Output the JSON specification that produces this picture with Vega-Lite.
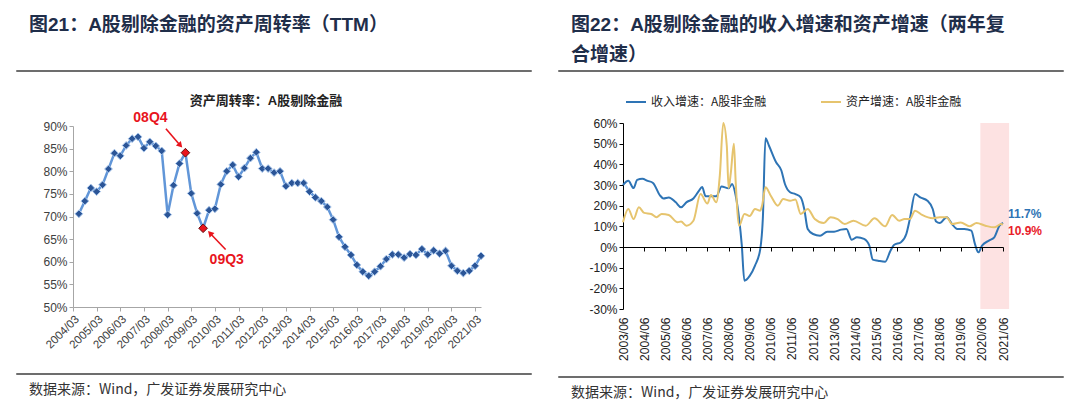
{
  "$schema": "https://vega.github.io/schema/vega-lite/v6.json",
  "background": "white",
  "padding": {"left": 16, "top": 15, "right": 0, "bottom": 0},
  "config": {
    "view": {"stroke": null},
    "axis": {"labelFont": "Liberation Sans", "grid": false, "labelOverlap": false},
    "legend": {"labelFont": "Noto Sans CJK SC"}
  },
  "resolve": {"scale": {"color": "independent"}, "legend": {"color": "independent"}},
  "datasets": {
    "turnover": [
      {"date": "2004-06-30", "value": 70.6}, {"date": "2004-09-30", "value": 73.4}, {"date": "2004-12-31", "value": 76.3}, {"date": "2005-03-31", "value": 75.5},
      {"date": "2005-06-30", "value": 77.0}, {"date": "2005-09-30", "value": 80.5}, {"date": "2005-12-31", "value": 84.0}, {"date": "2006-03-31", "value": 83.4},
      {"date": "2006-06-30", "value": 85.7}, {"date": "2006-09-30", "value": 87.2}, {"date": "2006-12-31", "value": 87.6}, {"date": "2007-03-31", "value": 85.1},
      {"date": "2007-06-30", "value": 86.5}, {"date": "2007-09-30", "value": 85.6}, {"date": "2007-12-31", "value": 84.5}, {"date": "2008-03-31", "value": 70.4},
      {"date": "2008-06-30", "value": 76.9}, {"date": "2008-09-30", "value": 81.7}, {"date": "2008-12-31", "value": 84.1}, {"date": "2009-03-31", "value": 75.1},
      {"date": "2009-06-30", "value": 70.7}, {"date": "2009-09-30", "value": 67.4}, {"date": "2009-12-31", "value": 71.4}, {"date": "2010-03-31", "value": 71.7},
      {"date": "2010-06-30", "value": 77.1}, {"date": "2010-09-30", "value": 80.0}, {"date": "2010-12-31", "value": 81.4}, {"date": "2011-03-31", "value": 78.8},
      {"date": "2011-06-30", "value": 80.7}, {"date": "2011-09-30", "value": 82.9}, {"date": "2011-12-31", "value": 84.2}, {"date": "2012-03-31", "value": 80.6},
      {"date": "2012-06-30", "value": 80.6}, {"date": "2012-09-30", "value": 79.7}, {"date": "2012-12-31", "value": 80.0}, {"date": "2013-03-31", "value": 76.7},
      {"date": "2013-06-30", "value": 77.4}, {"date": "2013-09-30", "value": 77.4}, {"date": "2013-12-31", "value": 77.4}, {"date": "2014-03-31", "value": 75.5},
      {"date": "2014-06-30", "value": 74.2}, {"date": "2014-09-30", "value": 73.4}, {"date": "2014-12-31", "value": 72.1}, {"date": "2015-03-31", "value": 69.3},
      {"date": "2015-06-30", "value": 65.5}, {"date": "2015-09-30", "value": 63.3}, {"date": "2015-12-31", "value": 61.5}, {"date": "2016-03-31", "value": 59.3},
      {"date": "2016-06-30", "value": 57.8}, {"date": "2016-09-30", "value": 56.9}, {"date": "2016-12-31", "value": 57.8}, {"date": "2017-03-31", "value": 59.0},
      {"date": "2017-06-30", "value": 60.6}, {"date": "2017-09-30", "value": 61.6}, {"date": "2017-12-31", "value": 61.6}, {"date": "2018-03-31", "value": 60.9},
      {"date": "2018-06-30", "value": 61.7}, {"date": "2018-09-30", "value": 61.5}, {"date": "2018-12-31", "value": 62.8}, {"date": "2019-03-31", "value": 61.6},
      {"date": "2019-06-30", "value": 62.5}, {"date": "2019-09-30", "value": 61.8}, {"date": "2019-12-31", "value": 62.4}, {"date": "2020-03-31", "value": 59.1},
      {"date": "2020-06-30", "value": 58.0}, {"date": "2020-09-30", "value": 57.5}, {"date": "2020-12-31", "value": 58.0}, {"date": "2021-03-31", "value": 59.1},
      {"date": "2021-06-30", "value": 61.3}
    ],
    "highlight": [
      {"label": "08Q4", "date": "2008-12-31", "value": 84.1},
      {"label": "09Q3", "date": "2009-09-30", "value": 67.4}
    ],
    "notes": [
      {"label": "08Q4", "date": "2007-07-10", "value": 91.8},
      {"label": "09Q3", "date": "2010-09-30", "value": 60.4}
    ],
    "arrows": [
      {"label": "08Q4", "x1": "2008-03-05", "y1": 89.4, "x2": "2008-10-13", "y2": 85.7},
      {"label": "09Q3", "x1": "2010-09-13", "y1": 62.7, "x2": "2010-01-15", "y2": 66.3}
    ],
    "revenue": [
      {"date": "2003-06-01", "value": 30}, {"date": "2003-09-01", "value": 32}, {"date": "2003-12-01", "value": 28.5}, {"date": "2004-02-01", "value": 32.5},
      {"date": "2004-05-01", "value": 33}, {"date": "2004-08-01", "value": 32}, {"date": "2004-11-01", "value": 31}, {"date": "2005-03-01", "value": 25},
      {"date": "2005-05-01", "value": 23.5}, {"date": "2005-08-01", "value": 24}, {"date": "2005-12-01", "value": 21.6}, {"date": "2006-03-01", "value": 19.2},
      {"date": "2006-06-01", "value": 21.6}, {"date": "2006-10-01", "value": 23.5}, {"date": "2007-01-01", "value": 27}, {"date": "2007-03-01", "value": 29},
      {"date": "2007-05-01", "value": 24.5}, {"date": "2007-08-01", "value": 24.5}, {"date": "2007-11-01", "value": 24.5}, {"date": "2008-02-01", "value": 29.3},
      {"date": "2008-06-01", "value": 28.4}, {"date": "2008-08-01", "value": 30.5}, {"date": "2008-10-01", "value": 25}, {"date": "2008-12-01", "value": 13.5},
      {"date": "2009-01-15", "value": 1}, {"date": "2009-03-01", "value": -16.3}, {"date": "2009-06-01", "value": -14}, {"date": "2009-09-01", "value": -9},
      {"date": "2009-12-01", "value": -1}, {"date": "2010-01-15", "value": 14}, {"date": "2010-03-01", "value": 52.6}, {"date": "2010-05-01", "value": 49},
      {"date": "2010-09-01", "value": 41}, {"date": "2010-12-01", "value": 37}, {"date": "2011-02-01", "value": 30.5}, {"date": "2011-05-01", "value": 26.5},
      {"date": "2011-08-01", "value": 25.6}, {"date": "2011-11-01", "value": 24}, {"date": "2012-01-01", "value": 18.4}, {"date": "2012-03-01", "value": 8.7},
      {"date": "2012-06-01", "value": 6.3}, {"date": "2012-10-01", "value": 5.5}, {"date": "2013-02-01", "value": 7.4}, {"date": "2013-06-01", "value": 7.4},
      {"date": "2013-10-01", "value": 8.4}, {"date": "2014-01-01", "value": 8.7}, {"date": "2014-04-01", "value": 3.5}, {"date": "2014-07-01", "value": 4.7},
      {"date": "2014-11-01", "value": 3.9}, {"date": "2015-02-01", "value": 0.6}, {"date": "2015-04-01", "value": -6.1}, {"date": "2015-07-01", "value": -6.6},
      {"date": "2015-11-01", "value": -7.1}, {"date": "2016-02-01", "value": -1.8}, {"date": "2016-04-01", "value": 1}, {"date": "2016-08-01", "value": 2.3},
      {"date": "2016-11-01", "value": 6.3}, {"date": "2017-01-01", "value": 13.5}, {"date": "2017-04-01", "value": 25.6}, {"date": "2017-07-01", "value": 24},
      {"date": "2017-11-01", "value": 22.4}, {"date": "2018-02-01", "value": 18.4}, {"date": "2018-04-01", "value": 12.3}, {"date": "2018-06-01", "value": 11.6},
      {"date": "2018-10-01", "value": 14.4}, {"date": "2019-01-01", "value": 11.1}, {"date": "2019-04-01", "value": 8.7}, {"date": "2019-08-01", "value": 8.7},
      {"date": "2019-12-01", "value": 7.9}, {"date": "2020-02-01", "value": 1.5}, {"date": "2020-04-01", "value": -2.6}, {"date": "2020-06-01", "value": 0.6},
      {"date": "2020-10-01", "value": 3.1}, {"date": "2021-01-01", "value": 4.7}, {"date": "2021-04-01", "value": 10.3}, {"date": "2021-06-01", "value": 11.7}
    ],
    "assets": [
      {"date": "2003-06-01", "value": 12}, {"date": "2003-09-01", "value": 18.4}, {"date": "2003-12-01", "value": 13.5}, {"date": "2004-03-01", "value": 19.2},
      {"date": "2004-06-01", "value": 16.5}, {"date": "2004-10-01", "value": 16}, {"date": "2005-01-01", "value": 14.4}, {"date": "2005-04-01", "value": 16},
      {"date": "2005-08-01", "value": 15.5}, {"date": "2006-01-01", "value": 12}, {"date": "2006-03-01", "value": 12.3}, {"date": "2006-06-01", "value": 10.3},
      {"date": "2006-10-01", "value": 12.7}, {"date": "2007-02-01", "value": 25.6}, {"date": "2007-06-01", "value": 21}, {"date": "2007-08-01", "value": 25.2},
      {"date": "2007-11-01", "value": 21.6}, {"date": "2008-01-01", "value": 34.5}, {"date": "2008-03-01", "value": 60}, {"date": "2008-05-01", "value": 49},
      {"date": "2008-06-01", "value": 28.5}, {"date": "2008-07-10", "value": 36}, {"date": "2008-09-01", "value": 50}, {"date": "2008-10-01", "value": 32},
      {"date": "2008-12-01", "value": 10.3}, {"date": "2009-03-01", "value": 16}, {"date": "2009-06-01", "value": 15}, {"date": "2009-09-01", "value": 18.4},
      {"date": "2009-12-01", "value": 17.6}, {"date": "2010-01-01", "value": 20}, {"date": "2010-03-01", "value": 28.9}, {"date": "2010-06-01", "value": 24.8},
      {"date": "2010-10-01", "value": 20}, {"date": "2011-01-01", "value": 23.2}, {"date": "2011-05-01", "value": 22.4}, {"date": "2011-08-01", "value": 23},
      {"date": "2011-11-01", "value": 16}, {"date": "2012-03-01", "value": 18.4}, {"date": "2012-07-01", "value": 13.5}, {"date": "2012-12-01", "value": 11.6},
      {"date": "2013-04-01", "value": 14.4}, {"date": "2013-08-01", "value": 13.5}, {"date": "2013-12-01", "value": 11.1}, {"date": "2014-05-01", "value": 12.7},
      {"date": "2014-12-01", "value": 10.3}, {"date": "2015-05-01", "value": 13.9}, {"date": "2015-11-01", "value": 10}, {"date": "2016-03-01", "value": 15.5},
      {"date": "2016-07-01", "value": 12.7}, {"date": "2016-10-01", "value": 13.5}, {"date": "2017-01-01", "value": 13.5}, {"date": "2017-04-01", "value": 17.6},
      {"date": "2017-08-01", "value": 15.5}, {"date": "2018-02-01", "value": 13.9}, {"date": "2018-06-01", "value": 14.4}, {"date": "2018-10-01", "value": 14.4},
      {"date": "2019-01-01", "value": 11.1}, {"date": "2019-06-01", "value": 11.9}, {"date": "2019-11-01", "value": 10}, {"date": "2020-03-01", "value": 11.6},
      {"date": "2020-08-01", "value": 10.3}, {"date": "2021-01-01", "value": 9.5}, {"date": "2021-05-01", "value": 11.1}, {"date": "2021-06-01", "value": 10.9}
    ],
    "band": [{"start": "2020-05-05", "end": "2021-09-15"}],
    "ends": [
      {"label": "11.7%", "date": "2021-06-01", "value": 11.7},
      {"label": "10.9%", "date": "2021-06-01", "value": 10.9}
    ]
  },
  "spacing": 26,
  "hconcat": [
    {
      "spacing": 22,
      "vconcat": [
        {
          "width": 514, "height": 0.001,
          "view": {"stroke": "#3c3c3c", "strokeWidth": 1.5},
          "title": {"text": "图21：A股剔除金融的资产周转率（TTM）", "anchor": "start", "dx": 12, "offset": 36, "fontSize": 19, "fontWeight": "bold", "font": "Liberation Sans, Noto Sans CJK SC", "color": "#1f2e4a"},
          "data": {"values": []},
          "mark": "rule",
          "encoding": {}
        },
        {
          "width": 514, "height": 195,
          "title": {"text": "资产周转率：A股剔除金融", "fontSize": 13, "fontWeight": "bold", "font": "Liberation Sans, Noto Sans CJK SC", "color": "#222222", "offset": 3, "dx": -8},
          "layer": [
            {
              "data": {"name": "turnover"},
              "mark": {"type": "line", "color": "#6196d8", "strokeWidth": 2.5},
              "encoding": {
                "x": {"field": "date", "type": "temporal",
                  "scale": {"type": "utc", "range": [56, 464], "domain": [{"year": 2004, "month": 3, "date": 31, "utc": true}, {"year": 2021, "month": 6, "date": 30, "utc": true}]},
                  "axis": {
                    "values": [
                      {"year": 2004, "month": 3, "date": 31, "utc": true}, {"year": 2005, "month": 3, "date": 31, "utc": true}, {"year": 2006, "month": 3, "date": 31, "utc": true},
                      {"year": 2007, "month": 3, "date": 31, "utc": true}, {"year": 2008, "month": 3, "date": 31, "utc": true}, {"year": 2009, "month": 3, "date": 31, "utc": true},
                      {"year": 2010, "month": 3, "date": 31, "utc": true}, {"year": 2011, "month": 3, "date": 31, "utc": true}, {"year": 2012, "month": 3, "date": 31, "utc": true},
                      {"year": 2013, "month": 3, "date": 31, "utc": true}, {"year": 2014, "month": 3, "date": 31, "utc": true}, {"year": 2015, "month": 3, "date": 31, "utc": true},
                      {"year": 2016, "month": 3, "date": 31, "utc": true}, {"year": 2017, "month": 3, "date": 31, "utc": true}, {"year": 2018, "month": 3, "date": 31, "utc": true},
                      {"year": 2019, "month": 3, "date": 31, "utc": true}, {"year": 2020, "month": 3, "date": 31, "utc": true}, {"year": 2021, "month": 3, "date": 31, "utc": true}
                    ],
                    "tickCount": 40,
                    "format": "%Y/%m", "labelAngle": -45, "labelFontSize": 11.5, "labelColor": "#404040", "labelOverlap": false, "labelFlush": false,
                    "domainColor": "#a6a6a6", "tickColor": "#a6a6a6", "tickSize": 4, "labelPadding": 2,
                    "title": null, "minExtent": 44
                  }
                },
                "y": {"field": "value", "type": "quantitative",
                  "scale": {"domain": [50, 90], "range": [195, 14], "nice": false, "zero": false},
                  "axis": {"values": [50, 55, 60, 65, 70, 75, 80, 85, 90], "tickCount": 40, "labelExpr": "datum.value + '%'", "labelFontSize": 12, "labelColor": "#404040", "labelOverlap": false, "labelFlush": false,
                    "domainColor": "#a6a6a6", "tickColor": "#a6a6a6", "tickSize": 4, "title": null, "offset": -56}
                }
              }
            },
            {
              "data": {"name": "turnover"},
              "mark": {"type": "point", "shape": "diamond", "filled": true, "fill": "#2b5597", "stroke": "#a8c6ec", "strokeWidth": 1, "size": 60, "opacity": 1},
              "encoding": {
                "x": {"field": "date", "type": "temporal"},
                "y": {"field": "value", "type": "quantitative"}
              }
            },
            {
              "data": {"name": "highlight"},
              "mark": {"type": "point", "shape": "diamond", "filled": true, "fill": "#e8141c", "stroke": "#6b1010", "strokeWidth": 1, "size": 75, "opacity": 1},
              "encoding": {
                "x": {"field": "date", "type": "temporal"},
                "y": {"field": "value", "type": "quantitative"}
              }
            },
            {
              "data": {"name": "arrows"},
              "mark": {"type": "rule", "color": "#e8141c", "strokeWidth": 1.6},
              "encoding": {
                "x": {"field": "x1", "type": "temporal"},
                "x2": {"field": "x2"},
                "y": {"field": "y1", "type": "quantitative"},
                "y2": {"field": "y2"}
              }
            },
            {
              "data": {"name": "arrows"},
              "transform": [{"filter": "datum.label == '08Q4'"}],
              "mark": {"type": "point", "shape": "triangle-up", "filled": true, "color": "#e8141c", "size": 45, "angle": 138, "opacity": 1},
              "encoding": {
                "x": {"field": "x2", "type": "temporal"},
                "y": {"field": "y2", "type": "quantitative"}
              }
            },
            {
              "data": {"name": "arrows"},
              "transform": [{"filter": "datum.label == '09Q3'"}],
              "mark": {"type": "point", "shape": "triangle-up", "filled": true, "color": "#e8141c", "size": 45, "angle": 317, "opacity": 1},
              "encoding": {
                "x": {"field": "x2", "type": "temporal"},
                "y": {"field": "y2", "type": "quantitative"}
              }
            },
            {
              "data": {"name": "notes"},
              "mark": {"type": "text", "color": "#e8141c", "fontSize": 14, "fontWeight": "bold", "font": "Liberation Sans"},
              "encoding": {
                "x": {"field": "date", "type": "temporal"},
                "y": {"field": "value", "type": "quantitative"},
                "text": {"field": "label"}
              }
            }
          ]
        },
        {
          "width": 514, "height": 0.001,
          "view": {"stroke": "#3c3c3c", "strokeWidth": 1.5},
          "title": {"text": "数据来源：Wind，广发证券发展研究中心", "orient": "bottom", "anchor": "start", "dx": 12, "offset": 9, "fontSize": 14, "fontWeight": "normal", "font": "Noto Sans CJK SC", "color": "#333333"},
          "data": {"values": []},
          "mark": "rule",
          "encoding": {}
        }
      ]
    },
    {
      "spacing": 15,
      "resolve": {"scale": {"color": "independent"}, "legend": {"color": "independent"}},
      "vconcat": [
        {
          "width": 504, "height": 0.001,
          "view": {"stroke": "#3c3c3c", "strokeWidth": 1.5},
          "title": {"text": ["图22：A股剔除金融的收入增速和资产增速（两年复", "合增速）"], "lineHeight": 30, "anchor": "start", "dx": 12, "offset": 6, "fontSize": 19, "fontWeight": "bold", "font": "Liberation Sans, Noto Sans CJK SC", "color": "#1f2e4a"},
          "data": {"values": []},
          "mark": "rule",
          "encoding": {}
        },
        {
          "width": 504, "height": 186,
          "resolve": {"axis": {"x": "independent"}},
          "layer": [
            {
              "data": {"name": "band"},
              "mark": {"type": "rect", "color": "#fde2e2"},
              "encoding": {
                "x": {"field": "start", "type": "temporal",
                  "scale": {"type": "utc", "range": [64, 444], "domain": [{"year": 2003, "month": 6, "date": 1, "utc": true}, {"year": 2021, "month": 6, "date": 1, "utc": true}]},
                  "axis": {
                    "orient": "bottom",
                    "values": [
                      {"year": 2003, "month": 6, "date": 1, "utc": true}, {"year": 2004, "month": 6, "date": 1, "utc": true}, {"year": 2005, "month": 6, "date": 1, "utc": true},
                      {"year": 2006, "month": 6, "date": 1, "utc": true}, {"year": 2007, "month": 6, "date": 1, "utc": true}, {"year": 2008, "month": 6, "date": 1, "utc": true},
                      {"year": 2009, "month": 6, "date": 1, "utc": true}, {"year": 2010, "month": 6, "date": 1, "utc": true}, {"year": 2011, "month": 6, "date": 1, "utc": true},
                      {"year": 2012, "month": 6, "date": 1, "utc": true}, {"year": 2013, "month": 6, "date": 1, "utc": true}, {"year": 2014, "month": 6, "date": 1, "utc": true},
                      {"year": 2015, "month": 6, "date": 1, "utc": true}, {"year": 2016, "month": 6, "date": 1, "utc": true}, {"year": 2017, "month": 6, "date": 1, "utc": true},
                      {"year": 2018, "month": 6, "date": 1, "utc": true}, {"year": 2019, "month": 6, "date": 1, "utc": true}, {"year": 2020, "month": 6, "date": 1, "utc": true},
                      {"year": 2021, "month": 6, "date": 1, "utc": true}
                    ],
                    "tickCount": 40,
                    "labels": false, "domainColor": "#000000", "tickColor": "#000000", "tickSize": 4, "offset": -62, "title": null, "zindex": 1
                  }
                },
                "x2": {"field": "end"}
              }
            },
            {
              "data": {"name": "revenue"},
              "mark": {"type": "line", "strokeWidth": 2, "interpolate": "monotone"},
              "encoding": {
                "x": {"field": "date", "type": "temporal",
                  "scale": {"type": "utc", "range": [64, 444], "domain": [{"year": 2003, "month": 6, "date": 1, "utc": true}, {"year": 2021, "month": 6, "date": 1, "utc": true}]},
                  "axis": {
                    "orient": "bottom",
                    "values": [
                      {"year": 2003, "month": 6, "date": 1, "utc": true}, {"year": 2004, "month": 6, "date": 1, "utc": true}, {"year": 2005, "month": 6, "date": 1, "utc": true},
                      {"year": 2006, "month": 6, "date": 1, "utc": true}, {"year": 2007, "month": 6, "date": 1, "utc": true}, {"year": 2008, "month": 6, "date": 1, "utc": true},
                      {"year": 2009, "month": 6, "date": 1, "utc": true}, {"year": 2010, "month": 6, "date": 1, "utc": true}, {"year": 2011, "month": 6, "date": 1, "utc": true},
                      {"year": 2012, "month": 6, "date": 1, "utc": true}, {"year": 2013, "month": 6, "date": 1, "utc": true}, {"year": 2014, "month": 6, "date": 1, "utc": true},
                      {"year": 2015, "month": 6, "date": 1, "utc": true}, {"year": 2016, "month": 6, "date": 1, "utc": true}, {"year": 2017, "month": 6, "date": 1, "utc": true},
                      {"year": 2018, "month": 6, "date": 1, "utc": true}, {"year": 2019, "month": 6, "date": 1, "utc": true}, {"year": 2020, "month": 6, "date": 1, "utc": true},
                      {"year": 2021, "month": 6, "date": 1, "utc": true}
                    ],
                    "tickCount": 40,
                    "format": "%Y/%m", "labelAngle": 270, "labelFontSize": 12, "labelColor": "#222222", "labelOverlap": false, "labelFlush": false,
                    "domain": false, "ticks": false, "labelPadding": 8, "title": null
                  }
                },
                "y": {"field": "value", "type": "quantitative",
                  "scale": {"domain": [-30, 60], "nice": false, "zero": false},
                  "axis": {"values": [-30, -20, -10, 0, 10, 20, 30, 40, 50, 60], "tickCount": 40, "labelExpr": "datum.value + '%'", "labelFontSize": 12, "labelColor": "#222222", "labelOverlap": false, "labelFlush": false,
                    "domainColor": "#000000", "tickColor": "#000000", "tickSize": 4, "title": null, "offset": -64}
                },
                "color": {"datum": "收入增速：A股非金融", "type": "nominal",
                  "scale": {"domain": ["收入增速：A股非金融", "资产增速：A股非金融"], "range": ["#2e74b5", "#e6c46e"]},
                  "legend": {"orient": "none", "legendX": 62, "legendY": -36, "direction": "horizontal", "title": null, "symbolType": "stroke", "symbolStrokeWidth": 2, "symbolSize": 400,
                    "labelFontSize": 12, "labelColor": "#222222", "columnPadding": 50, "padding": 4}
                }
              }
            },
            {
              "data": {"name": "assets"},
              "mark": {"type": "line", "strokeWidth": 2, "interpolate": "monotone"},
              "encoding": {
                "x": {"field": "date", "type": "temporal", "axis": null},
                "y": {"field": "value", "type": "quantitative"},
                "color": {"datum": "资产增速：A股非金融", "type": "nominal"}
              }
            },
            {
              "data": {"name": "ends"},
              "transform": [{"filter": "datum.label == '11.7%'"}],
              "mark": {"type": "text", "color": "#2e74b5", "align": "left", "dx": 5, "dy": -9, "fontSize": 12, "fontWeight": "bold", "font": "Liberation Sans"},
              "encoding": {
                "x": {"field": "date", "type": "temporal", "axis": null},
                "y": {"field": "value", "type": "quantitative"},
                "text": {"field": "label"}
              }
            },
            {
              "data": {"name": "ends"},
              "transform": [{"filter": "datum.label == '10.9%'"}],
              "mark": {"type": "text", "color": "#e8202a", "align": "left", "dx": 5, "dy": 7, "fontSize": 12, "fontWeight": "bold", "font": "Liberation Sans"},
              "encoding": {
                "x": {"field": "date", "type": "temporal", "axis": null},
                "y": {"field": "value", "type": "quantitative"},
                "text": {"field": "label"}
              }
            }
          ]
        },
        {
          "width": 504, "height": 0.001,
          "view": {"stroke": "#3c3c3c", "strokeWidth": 1.5},
          "title": {"text": "数据来源：Wind，广发证券发展研究中心", "orient": "bottom", "anchor": "start", "dx": 12, "offset": 9, "fontSize": 14, "fontWeight": "normal", "font": "Noto Sans CJK SC", "color": "#333333"},
          "data": {"values": []},
          "mark": "rule",
          "encoding": {}
        }
      ]
    }
  ]
}
